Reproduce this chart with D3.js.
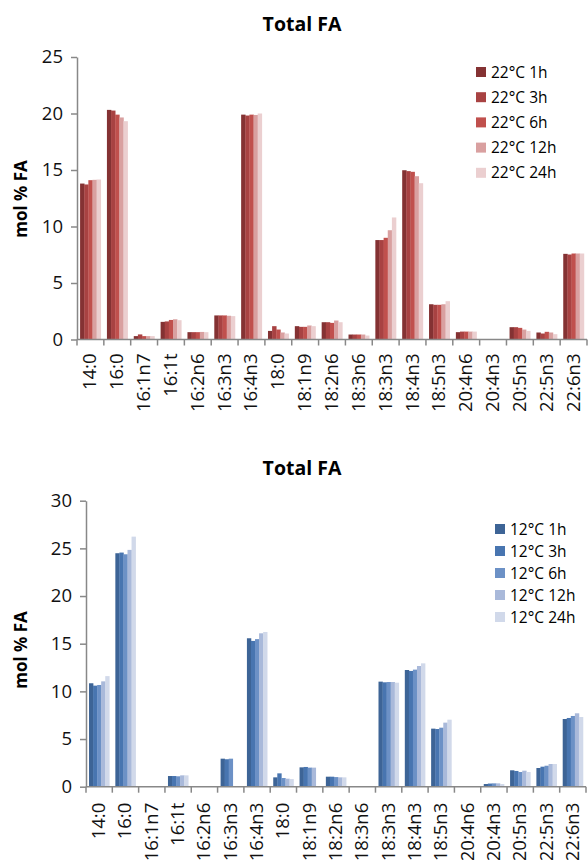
<!DOCTYPE html>
<html>
<head>
<meta charset="utf-8">
<script src="https://cdn.jsdelivr.net/npm/d3@7"></script>
<style>
  html, body { margin: 0; padding: 0; background: #fff; }
  svg { display: block; font-family: "Open Sans", "Liberation Sans", sans-serif; }
</style>
</head>
<body>
<svg id="chart" width="588" height="860"></svg>
<script>
// ---------- data ----------
const categories = ["14:0","16:0","16:1n7","16:1t","16:2n6","16:3n3","16:4n3","18:0","18:1n9","18:2n6","18:3n6","18:3n3","18:4n3","18:5n3","20:4n6","20:4n3","20:5n3","22:5n3","22:6n3"];

const seriesWarm = ["22°C 1h","22°C 3h","22°C 6h","22°C 12h","22°C 24h"];
const warm1h  = [13.8, 20.32, 0.3, 1.56, 0.65, 2.13, 19.9, 0.76, 1.18, 1.53, 0.44, 8.8, 14.98, 3.12, 0.65, 0, 1.09, 0.62, 7.58];
const warm3h  = [13.72, 20.26, 0.45, 1.6, 0.65, 2.13, 19.82, 1.18, 1.12, 1.53, 0.44, 8.8, 14.9, 3.07, 0.7, 0, 1.09, 0.53, 7.52];
const warm6h  = [14.1, 19.9, 0.3, 1.73, 0.65, 2.13, 19.9, 0.88, 1.12, 1.47, 0.44, 9.0, 14.84, 3.07, 0.7, 0, 1.03, 0.68, 7.61];
const warm12h = [14.13, 19.65, 0.3, 1.79, 0.67, 2.1, 19.87, 0.62, 1.24, 1.68, 0.44, 9.67, 14.45, 3.12, 0.7, 0, 0.88, 0.62, 7.61];
const warm24h = [14.16, 19.32, 0.3, 1.71, 0.65, 2.07, 20.0, 0.53, 1.18, 1.53, 0.35, 10.8, 13.83, 3.39, 0.7, 0, 0.76, 0.47, 7.61];

const seriesCold = ["12°C 1h","12°C 3h","12°C 6h","12°C 12h","12°C 24h"];
const cold1h  = [10.85, 24.49, 0, 1.12, 0, 2.94, 15.57, 0.98, 2.03, 1.05, 0, 11.02, 12.24, 6.09, 0, 0.28, 1.72, 1.96, 7.1];
const cold3h  = [10.6, 24.56, 0, 1.12, 0, 2.88, 15.29, 1.4, 2.07, 1.05, 0, 10.95, 12.14, 6.05, 0, 0.33, 1.65, 2.1, 7.21];
const cold6h  = [10.67, 24.38, 0, 1.09, 0, 2.94, 15.48, 0.91, 2.0, 1.01, 0, 10.98, 12.28, 6.19, 0, 0.35, 1.54, 2.2, 7.42];
const cold12h = [11.05, 24.84, 0, 1.19, 0, 0, 16.09, 0.84, 2.0, 0.98, 0, 10.98, 12.66, 6.72, 0, 0.35, 1.68, 2.38, 7.7];
const cold24h = [11.6, 26.23, 0, 1.19, 0, 0, 16.23, 0.8, 0, 0.98, 0, 10.91, 12.94, 7.03, 0, 0.28, 1.54, 2.38, 7.31];

const warmTicks = [0, 5, 10, 15, 20, 25];
const coldTicks = [0, 5, 10, 15, 20, 25, 30];
const chartTitle = "Total FA";
const yLabel = "mol % FA";

// ---------- styles ----------
const warmColors = ["#843233", "#A84242", "#C0504D", "#D9A0A0", "#EBCFD0"];
const coldColors = ["#3D6496", "#4875B0", "#6C91C6", "#A9B9DA", "#D1D9EA"];

const svg = d3.select("#chart");

function drawChart(cfg) {
  const g = svg.append("g");
  const x0 = d3.scaleBand().domain(categories).range([cfg.left, cfg.right]).padding(0);
  const x1 = d3.scaleBand().domain(cfg.series.map((s, i) => i))
    .range([x0.bandwidth() * 0.115, x0.bandwidth() * 0.885]).padding(0);
  const y = d3.scaleLinear().domain([0, cfg.max]).range([cfg.bottom, cfg.top]);

  // bars
  cfg.values.forEach((vals, si) => {
    g.append("g").selectAll("rect")
      .data(vals.map((v, i) => ({ c: categories[i], v })))
      .join("rect")
      .attr("x", d => x0(d.c) + x1(si))
      .attr("width", x1.bandwidth() + 0.3)
      .attr("y", d => y(d.v))
      .attr("height", d => Math.max(0, y(0) - y(d.v)))
      .attr("fill", cfg.colors[si]);
  });

  // y axis
  const yAxis = d3.axisLeft(y).tickValues(cfg.ticks).tickSize(6).tickSizeOuter(0).tickPadding(8);
  const ya = g.append("g").attr("transform", `translate(${cfg.left},0)`).call(yAxis);
  ya.select(".domain").attr("stroke", "#888").attr("stroke-width", 1.5);
  ya.selectAll(".tick line").attr("stroke", "#888").attr("stroke-width", 1.5);
  ya.selectAll(".tick text").attr("font-size", 18.5).attr("fill", "#111")
    .attr("font-family", "'Open Sans', sans-serif").attr("dx", cfg.yTickDx);

  // x axis: labels at band centres, ticks at band boundaries
  const xa = g.append("g").attr("transform", `translate(0,${cfg.bottom})`);
  xa.append("line").attr("x1", cfg.left).attr("x2", cfg.right)
    .attr("stroke", "#888").attr("stroke-width", 1.5);
  const bounds = categories.map(c => x0(c)).concat([x0.range()[1]]);
  xa.selectAll("line.tk").data(bounds).join("line").attr("class", "tk")
    .attr("x1", d => d).attr("x2", d => d).attr("y1", 0).attr("y2", 6)
    .attr("stroke", "#888").attr("stroke-width", 1.5);
  xa.selectAll("text").data(categories).join("text")
    .attr("transform", d => `translate(${x0(d) + x0.bandwidth() / 2 + 6},${cfg.xLabelGap}) rotate(-90)`)
    .attr("text-anchor", "end")
    .attr("font-size", 18.5).attr("fill", "#111")
    .text(d => d);

  // title
  g.append("text").attr("x", 302).attr("y", cfg.titleY).attr("text-anchor", "middle")
    .attr("font-size", 19.5).attr("font-weight", "bold").attr("fill", "#000").text(chartTitle);

  // y label
  g.append("text").attr("transform", `translate(27,${cfg.yLabelY}) rotate(-90)`)
    .attr("text-anchor", "middle").attr("font-size", 17).attr("font-weight", "bold")
    .attr("fill", "#000").text(yLabel);

  // legend
  const lg = g.append("g");
  cfg.series.forEach((s, i) => {
    const cy = cfg.legY + i * cfg.legStep;
    lg.append("rect").attr("x", cfg.legX).attr("y", cy - 5).attr("width", 10).attr("height", 10)
      .attr("fill", cfg.colors[i]);
    lg.append("text").attr("x", cfg.legX + 15).attr("y", cy).attr("dy", "0.36em")
      .attr("font-size", 15.5).attr("fill", "#000").text(s);
  });
}

drawChart({
  left: 77, right: 587, top: 57, bottom: 339.5, max: 25,
  ticks: warmTicks, series: seriesWarm, colors: warmColors,
  values: [warm1h, warm3h, warm6h, warm12h, warm24h],
  titleY: 31, yLabelY: 199, yTickDx: 0, xLabelGap: 14,
  legX: 476, legY: 72, legStep: 25.2
});

drawChart({
  left: 86, right: 586, top: 500.7, bottom: 786.7, max: 30,
  ticks: coldTicks, series: seriesCold, colors: coldColors,
  values: [cold1h, cold3h, cold6h, cold12h, cold24h],
  titleY: 475, yLabelY: 650, yTickDx: 0, xLabelGap: 16,
  legX: 495, legY: 529, legStep: 22
});
</script>
</body>
</html>
